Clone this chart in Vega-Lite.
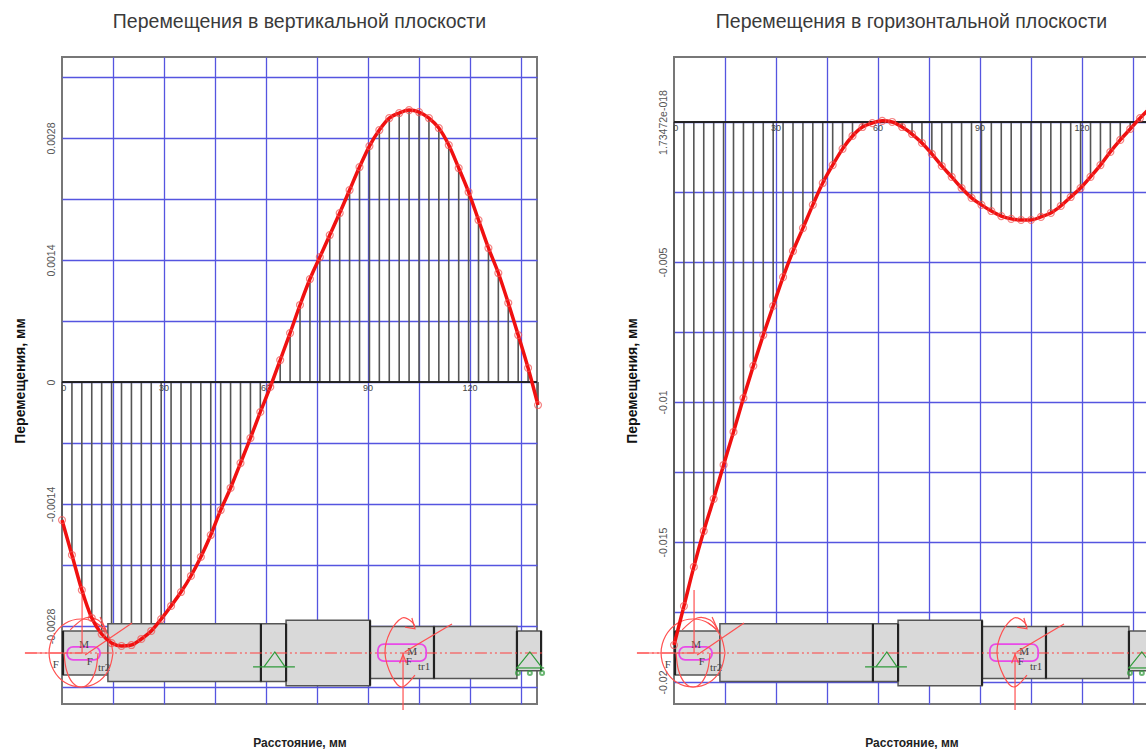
{
"$schema":"https://vega.github.io/schema/vega-lite/v6.json",
"padding":{"left":12,"top":10,"right":0,"bottom":0},
"background":"white",
"spacing":73,
"config":{"view":{"stroke":"#777777","strokeWidth":2},"font":"Liberation Sans"},
"datasets":{
"profile":[
{"x":0,"v":-0.001584,"h":-0.01868},{"x":2.92,"v":-0.001985,"h":-0.01729},{"x":5.83,"v":-0.002387,"h":-0.01589},{"x":8.75,"v":-0.002708,"h":-0.01461},{"x":11.67,"v":-0.002892,"h":-0.01346},{"x":14.58,"v":-0.002995,"h":-0.01225},{"x":17.5,"v":-0.003029,"h":-0.01107},{"x":20.42,"v":-0.003018,"h":-0.00986},{"x":23.33,"v":-0.002949,"h":-0.00871},{"x":26.25,"v":-0.002857,"h":-0.00761},{"x":29.17,"v":-0.00272,"h":-0.00657},{"x":32.08,"v":-0.00257,"h":-0.00554},{"x":35,"v":-0.00241,"h":-0.00461},{"x":37.92,"v":-0.002226,"h":-0.00379},{"x":40.83,"v":-0.002008,"h":-0.00296},{"x":43.75,"v":-0.001756,"h":-0.00218},{"x":46.67,"v":-0.001469,"h":-0.00154},{"x":49.58,"v":-0.001216,"h":-0.00096},{"x":52.5,"v":-0.00093,"h":-0.0005},{"x":55.42,"v":-0.000643,"h":-0.00018},{"x":58.33,"v":-0.000344,"h":-0.00004},{"x":61.25,"v":-0.000057,"h":0.00004},{"x":64.17,"v":0.000252,"h":0},{"x":67.08,"v":0.000562,"h":-0.00018},{"x":70,"v":0.000884,"h":-0.00043},{"x":72.92,"v":0.001182,"h":-0.00075},{"x":75.83,"v":0.001434,"h":-0.00114},{"x":78.75,"v":0.001687,"h":-0.00157},{"x":81.67,"v":0.001939,"h":-0.00196},{"x":84.58,"v":0.002203,"h":-0.00236},{"x":87.5,"v":0.002467,"h":-0.00271},{"x":90.42,"v":0.002708,"h":-0.00296},{"x":93.33,"v":0.002892,"h":-0.00318},{"x":96.25,"v":0.003029,"h":-0.00336},{"x":99.17,"v":0.003087,"h":-0.00346},{"x":102.08,"v":0.003121,"h":-0.0035},{"x":105,"v":0.003098,"h":-0.0035},{"x":107.92,"v":0.003029,"h":-0.00339},{"x":110.83,"v":0.002915,"h":-0.00325},{"x":113.75,"v":0.00272,"h":-0.003},{"x":116.67,"v":0.002456,"h":-0.00268},{"x":119.58,"v":0.00218,"h":-0.00236},{"x":122.5,"v":0.001859,"h":-0.00196},{"x":125.42,"v":0.001538,"h":-0.00154},{"x":128.33,"v":0.001251,"h":-0.00107},{"x":131.25,"v":0.000907,"h":-0.00064},{"x":134.17,"v":0.000539,"h":-0.00025},{"x":137.08,"v":0.000161,"h":0.00014},{"x":140,"v":-0.000264,"h":0.0005}],
"xlabels":[{"x":0.5,"label":"0"},{"x":30,"label":"30"},{"x":60,"label":"60"},{"x":90,"label":"90"},{"x":120,"label":"120"}],
"segments":[{"x":0.3,"x2":13.5,"y":6.5,"y2":-6.5},{"x":13.5,"x2":58.5,"y":8.6,"y2":-8.4},{"x":58.5,"x2":65.9,"y":8.6,"y2":-8.4},{"x":65.9,"x2":90.6,"y":9.6,"y2":-9.6},{"x":90.6,"x2":109.4,"y":7.8,"y2":-7.5},{"x":109.4,"x2":133.8,"y":7.8,"y2":-7.5},{"x":133.8,"x2":140.9,"y":6.5,"y2":-5.2}],
"shoulders":[{"x":0.3,"y":6.5,"y2":-6.5},{"x":58.5,"y":8.6,"y2":-8.4},{"x":65.9,"y":8.6,"y2":-8.4},{"x":90.6,"y":9.6,"y2":-9.6},{"x":109.4,"y":7.8,"y2":-7.5},{"x":133.8,"y":6.5,"y2":-5.2},{"x":140.9,"y":6.5,"y2":-5.2}],
"pills":[{"x":1.5,"x2":11.2,"y":1.8,"y2":-2},{"x":92.9,"x2":107.1,"y":2.6,"y2":-2.4}],
"centre":[{"x":-10.9,"y":0},{"x":141.2,"y":0}],
"arcs":[
{"s":"a1","i":0,"x":15,"y":0},{"s":"a1","i":1,"x":13.7,"y":5},{"s":"a1","i":2,"x":10.3,"y":8.7},{"s":"a1","i":3,"x":5.6,"y":10},{"s":"a1","i":4,"x":0.9,"y":8.7},{"s":"a1","i":5,"x":-2.5,"y":5},{"s":"a1","i":6,"x":-3.8,"y":0},{"s":"a1","i":7,"x":-2.5,"y":-5},{"s":"a1","i":8,"x":0.9,"y":-8.7},{"s":"a1","i":9,"x":5.6,"y":-10},{"s":"a1","i":10,"x":10.3,"y":-8.7},{"s":"a1","i":11,"x":13.7,"y":-5},{"s":"a1","i":12,"x":15,"y":0},
{"s":"a2","i":0,"x":10.6,"y":0},{"s":"a2","i":1,"x":9.9,"y":-5},{"s":"a2","i":2,"x":8.1,"y":-8.7},{"s":"a2","i":3,"x":5.6,"y":-10},{"s":"a2","i":4,"x":3.1,"y":-8.7},{"s":"a2","i":5,"x":1.3,"y":-5},{"s":"a2","i":6,"x":0.6,"y":0},
{"s":"a3","i":0,"x":103.8,"y":-6.5},{"s":"a3","i":1,"x":100,"y":-10},{"s":"a3","i":2,"x":97,"y":-6.8},{"s":"a3","i":3,"x":95,"y":0},{"s":"a3","i":4,"x":96.5,"y":6.2},{"s":"a3","i":5,"x":100,"y":10.3},{"s":"a3","i":6,"x":103,"y":9.1},{"s":"a3","i":7,"x":103.8,"y":7.4},
{"s":"a4","i":0,"x":2.4,"y":6.8},{"s":"a4","i":1,"x":6.8,"y":10.3},{"s":"a4","i":2,"x":10.6,"y":9.7},{"s":"a4","i":3,"x":12.9,"y":6.8}],
"redLines":[
{"s":"l1","i":0,"x":5.9,"y":18.5},{"s":"l1","i":1,"x":5.9,"y":0},
{"s":"l2","i":0,"x":20.6,"y":8.8},{"s":"l2","i":1,"x":6.8,"y":-0.6},
{"s":"l3","i":0,"x":100.3,"y":-16.8},{"s":"l3","i":1,"x":100.3,"y":0},
{"s":"l4","i":0,"x":114.7,"y":8.5},{"s":"l4","i":1,"x":100.8,"y":0.3},
{"s":"l5","i":0,"x":100.9,"y":7.6},{"s":"l5","i":1,"x":103.8,"y":7.1},{"s":"l5","i":2,"x":102.9,"y":10.3},
{"s":"l6","i":0,"x":99.3,"y":-3},{"s":"l6","i":1,"x":100.3,"y":-0.5},{"s":"l6","i":2,"x":101.3,"y":-3},
{"s":"l7","i":0,"x":10,"y":8.8},{"s":"l7","i":1,"x":12.9,"y":6.8},{"s":"l7","i":2,"x":11.2,"y":10.6},
{"s":"l8","i":0,"x":-10.9,"y":0},{"s":"l8","i":1,"x":5.9,"y":0}],
"greenLines":[
{"s":"g1","i":0,"x":59.4,"y":-4.1},{"s":"g1","i":1,"x":62.6,"y":0.3},{"s":"g1","i":2,"x":65.6,"y":-4.1},
{"s":"g2","i":0,"x":56.2,"y":-4.1},{"s":"g2","i":1,"x":68.5,"y":-4.1},
{"s":"g3","i":0,"x":133.8,"y":-4.4},{"s":"g3","i":1,"x":137.6,"y":0.3},{"s":"g3","i":2,"x":141.2,"y":-4.4},
{"s":"g4","i":0,"x":133.5,"y":-4.4},{"s":"g4","i":1,"x":141.8,"y":-4.4}],
"rollers":[{"x":134.1,"y":-5.9},{"x":137.6,"y":-5.9},{"x":141.2,"y":-5.9}],
"notes":[{"x":6.5,"y":2.4,"label":"M"},{"x":-1.8,"y":-3.5,"label":"F"},{"x":8.2,"y":-2.6,"label":"F"},{"x":12.4,"y":-4.4,"label":"tr2"},{"x":103,"y":0.4,"label":"M"},{"x":102,"y":-2.6,"label":"F"},{"x":106.5,"y":-4.1,"label":"tr1"}]
},
"hconcat":[
{"width":475,"height":647,
"title":{"text":"Перемещения в вертикальной плоскости","fontSize":19.5,"fontWeight":"normal","color":"#3a3a3a","offset":25},
"encoding":{"x":{"field":"x","type":"quantitative","scale":{"domain":[0,139.7],"nice":false,"zero":false},"axis":{"values":[15,30,45,60,75,90,105,120,135],"labels":false,"ticks":false,"domain":false,"grid":true,"gridColor":"#5555e0","gridWidth":1.3,"title":"Расстояние, мм","titleFontSize":12,"titleFontWeight":"bold","titleColor":"#222222","titlePadding":33}}},
"layer":[
{"encoding":{"y":{"type":"quantitative","scale":{"domain":[-0.003695,0.00373],"nice":false,"zero":false},"axis":{"values":[0.0035,0.0028,0.0021,0.0014,0.0007,0,-0.0007,-0.0014,-0.0021,-0.0028,-0.0035],"labelExpr":"abs(round(datum.value/0.0007))%2==0 && abs(datum.value)<0.0035 ? ''+datum.value : ''","labelAngle":-90,"labelAlign":"center","labelBaseline":"bottom","labelFontSize":10.5,"labelColor":"#555555","labelPadding":6,"ticks":false,"domain":false,"grid":true,"gridColor":"#5555e0","gridWidth":1.3,"title":"Перемещения, мм","titleFontSize":14,"titleFontWeight":"bold","titleColor":"#111111","titlePadding":19}}},
"layer":[
{"data":{"name":"profile"},"mark":{"type":"rule","color":"#555555","strokeWidth":1.6},"encoding":{"y":{"field":"v"},"y2":{"datum":0}}},
{"data":{"name":"xlabels"},"mark":{"type":"rule","color":"#222222","strokeWidth":1},"encoding":{"x":{"value":0},"x2":{"value":475},"y":{"datum":0}}},
{"data":{"name":"xlabels"},"mark":{"type":"text","fontSize":9,"color":"#444444","dy":6,"baseline":"middle"},"encoding":{"y":{"datum":0},"text":{"field":"label"}}}
]},
{"encoding":{"y":{"type":"quantitative","scale":{"domain":[-15,175.3],"nice":false,"zero":false},"axis":null}},
"layer":[
{"data":{"name":"segments"},"mark":{"type":"rect","fill":"#d9d9d9","stroke":"#555555","strokeWidth":1.5},"encoding":{"x2":{"field":"x2"},"y":{"field":"y"},"y2":{"field":"y2"}}},
{"data":{"name":"shoulders"},"mark":{"type":"rule","color":"#222222","strokeWidth":2.2},"encoding":{"y":{"field":"y"},"y2":{"field":"y2"}}},
{"data":{"name":"centre"},"mark":{"type":"line","color":"#ff4040","strokeWidth":1.2,"strokeDash":[12,3,2,3,2,3]},"encoding":{"y":{"field":"y"}}},
{"data":{"name":"greenLines"},"mark":{"type":"line","color":"#2f9a3a","strokeWidth":1.2},"encoding":{"y":{"field":"y"},"detail":{"field":"s"},"order":{"field":"i"}}},
{"data":{"name":"rollers"},"mark":{"type":"point","color":"#2f9a3a","size":16,"filled":false},"encoding":{"y":{"field":"y"}}},
{"data":{"name":"pills"},"mark":{"type":"rect","fill":"transparent","stroke":"#e84ae8","strokeWidth":1.8,"cornerRadius":6},"encoding":{"x2":{"field":"x2"},"y":{"field":"y"},"y2":{"field":"y2"}}},
{"data":{"name":"notes"},"mark":{"type":"text","font":"Liberation Serif","fontSize":11,"color":"#444444","baseline":"middle"},"encoding":{"y":{"field":"y"},"text":{"field":"label"}}},
{"data":{"name":"arcs"},"mark":{"type":"line","color":"#ff5050","strokeWidth":1.2,"interpolate":"cardinal"},"encoding":{"y":{"field":"y"},"detail":{"field":"s"},"order":{"field":"i"}}},
{"data":{"name":"redLines"},"mark":{"type":"line","color":"#ff5050","strokeWidth":1.2},"encoding":{"y":{"field":"y"},"detail":{"field":"s"},"order":{"field":"i"}}}
]},
{"data":{"name":"profile"},"encoding":{"y":{"field":"v","type":"quantitative","scale":{"domain":[-0.003695,0.00373],"nice":false,"zero":false},"axis":null}},
"layer":[
{"mark":{"type":"line","color":"#f01010","strokeWidth":3.5,"interpolate":"monotone"}},
{"mark":{"type":"point","color":"#f25050","size":48,"filled":false,"strokeWidth":1.2}}
]}
],
"resolve":{"scale":{"y":"independent"},"axis":{"y":"independent"}}
},
{"width":475,"height":647,
"title":{"text":"Перемещения в горизонтальной плоскости","fontSize":19.5,"fontWeight":"normal","color":"#3a3a3a","offset":25},
"encoding":{"x":{"field":"x","type":"quantitative","scale":{"domain":[0,139.7],"nice":false,"zero":false},"axis":{"values":[15,30,45,60,75,90,105,120,135],"labels":false,"ticks":false,"domain":false,"grid":true,"gridColor":"#5555e0","gridWidth":1.3,"title":"Расстояние, мм","titleFontSize":12,"titleFontWeight":"bold","titleColor":"#222222","titlePadding":33}}},
"layer":[
{"encoding":{"y":{"type":"quantitative","scale":{"domain":[-0.020786,0.002321],"nice":false,"zero":false},"axis":{"values":[0,-0.0025,-0.005,-0.0075,-0.01,-0.0125,-0.015,-0.0175,-0.02],"labelExpr":"datum.value==0 ? '1.73472e-018' : abs(round(datum.value/0.0025))%2==0 ? ''+datum.value : ''","labelAngle":-90,"labelAlign":"center","labelBaseline":"bottom","labelFontSize":10.5,"labelColor":"#555555","labelPadding":6,"ticks":false,"domain":false,"grid":true,"gridColor":"#5555e0","gridWidth":1.3,"title":"Перемещения, мм","titleFontSize":14,"titleFontWeight":"bold","titleColor":"#111111","titlePadding":19}}},
"layer":[
{"data":{"name":"profile"},"mark":{"type":"rule","color":"#555555","strokeWidth":1.6},"encoding":{"y":{"field":"h"},"y2":{"datum":0}}},
{"data":{"name":"xlabels"},"mark":{"type":"rule","color":"#222222","strokeWidth":1},"encoding":{"x":{"value":0},"x2":{"value":475},"y":{"datum":0}}},
{"data":{"name":"xlabels"},"mark":{"type":"text","fontSize":9,"color":"#444444","dy":6,"baseline":"middle"},"encoding":{"y":{"datum":0},"text":{"field":"label"}}}
]},
{"encoding":{"y":{"type":"quantitative","scale":{"domain":[-15,175.3],"nice":false,"zero":false},"axis":null}},
"layer":[
{"data":{"name":"segments"},"mark":{"type":"rect","fill":"#d9d9d9","stroke":"#555555","strokeWidth":1.5},"encoding":{"x2":{"field":"x2"},"y":{"field":"y"},"y2":{"field":"y2"}}},
{"data":{"name":"shoulders"},"mark":{"type":"rule","color":"#222222","strokeWidth":2.2},"encoding":{"y":{"field":"y"},"y2":{"field":"y2"}}},
{"data":{"name":"centre"},"mark":{"type":"line","color":"#ff4040","strokeWidth":1.2,"strokeDash":[12,3,2,3,2,3]},"encoding":{"y":{"field":"y"}}},
{"data":{"name":"greenLines"},"mark":{"type":"line","color":"#2f9a3a","strokeWidth":1.2},"encoding":{"y":{"field":"y"},"detail":{"field":"s"},"order":{"field":"i"}}},
{"data":{"name":"rollers"},"mark":{"type":"point","color":"#2f9a3a","size":16,"filled":false},"encoding":{"y":{"field":"y"}}},
{"data":{"name":"pills"},"mark":{"type":"rect","fill":"transparent","stroke":"#e84ae8","strokeWidth":1.8,"cornerRadius":6},"encoding":{"x2":{"field":"x2"},"y":{"field":"y"},"y2":{"field":"y2"}}},
{"data":{"name":"notes"},"mark":{"type":"text","font":"Liberation Serif","fontSize":11,"color":"#444444","baseline":"middle"},"encoding":{"y":{"field":"y"},"text":{"field":"label"}}},
{"data":{"name":"arcs"},"mark":{"type":"line","color":"#ff5050","strokeWidth":1.2,"interpolate":"cardinal"},"encoding":{"y":{"field":"y"},"detail":{"field":"s"},"order":{"field":"i"}}},
{"data":{"name":"redLines"},"mark":{"type":"line","color":"#ff5050","strokeWidth":1.2},"encoding":{"y":{"field":"y"},"detail":{"field":"s"},"order":{"field":"i"}}}
]},
{"data":{"name":"profile"},"encoding":{"y":{"field":"h","type":"quantitative","scale":{"domain":[-0.020786,0.002321],"nice":false,"zero":false},"axis":null}},
"layer":[
{"mark":{"type":"line","color":"#f01010","strokeWidth":3.5,"interpolate":"monotone"}},
{"mark":{"type":"point","color":"#f25050","size":48,"filled":false,"strokeWidth":1.2}}
]}
],
"resolve":{"scale":{"y":"independent"},"axis":{"y":"independent"}}
}
]
}
